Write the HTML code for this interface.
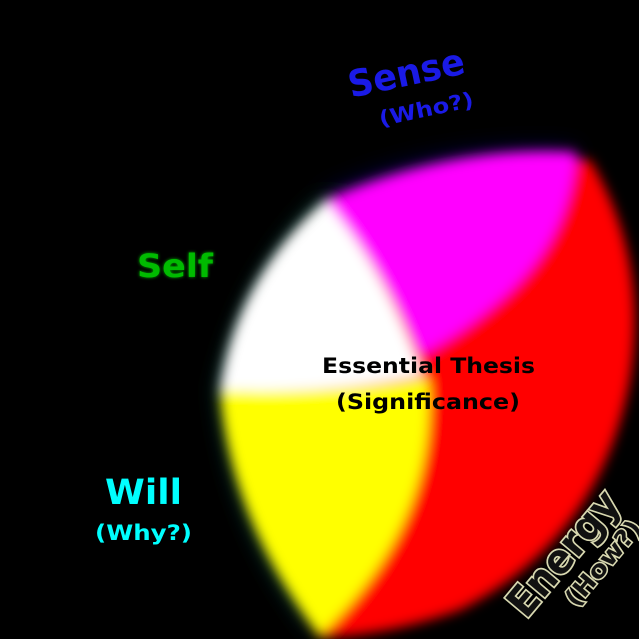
<!DOCTYPE html>
<html><head><style>html,body{margin:0;padding:0;background:#000;}svg{display:block}</style></head><body>
<svg width="639" height="639" viewBox="0 0 639 639" xmlns="http://www.w3.org/2000/svg" font-family="'DejaVu Sans', Verdana, sans-serif" font-weight="bold">
<defs>
<filter id="b" x="-20%" y="-20%" width="140%" height="140%"><feGaussianBlur stdDeviation="6"/></filter>
<filter id="b2" x="-20%" y="-20%" width="140%" height="140%"><feGaussianBlur stdDeviation="12"/></filter>
<filter id="g"><feGaussianBlur stdDeviation="1.5"/></filter>
</defs>
<rect width="639" height="639" fill="#000"/>
<g filter="url(#b2)" opacity="0.7">
<path d="M325,195 Q245,270 218,388 Q230,530 320,638 L320,600 Q250,500 240,390 Q260,280 330,215 Z" fill="#0a4a40"/>
<path d="M325,195 Q440,140 580,150 L560,170 Q440,165 340,215 Z" fill="#001060"/>
</g>
<g filter="url(#b)">
<path d="M325,200 Q450,145 590,160 Q650,260 630,380 Q600,540 460,610 Q390,635 320,638 Q240,530 220,388 Q240,280 325,200 Z" fill="#f00"/>
<path d="M325,200 Q450,145 576,152 Q570,240 500,300 Q460,335 420,355 Q385,270 325,200 Z" fill="#f0f"/>
<path d="M325,200 Q385,270 422,375 Q330,395 220,390 Q235,280 325,200 Z" fill="#fff"/>
<path d="M220,390 Q330,395 428,378 Q440,520 320,636 Q230,520 220,390 Z" fill="#ff0"/>
</g>
<g transform="rotate(-12 405 72)">
<text x="347" y="86" font-size="37" fill="#1a1ae6" textLength="118" lengthAdjust="spacingAndGlyphs">Sense</text>
<text x="370" y="120" font-size="21" fill="#1a1ae6" textLength="96" lengthAdjust="spacingAndGlyphs">(Who?)</text>
</g>
<text x="137" y="277" font-size="32" fill="#0a0" filter="url(#g)" textLength="76" lengthAdjust="spacingAndGlyphs">Self</text>
<text x="137" y="277" font-size="32" fill="#0b0" textLength="76" lengthAdjust="spacingAndGlyphs">Self</text>
<text x="105" y="504" font-size="35" fill="#0ff" textLength="77" lengthAdjust="spacingAndGlyphs">Will</text>
<text x="95" y="540" font-size="21" fill="#0ff" textLength="97" lengthAdjust="spacingAndGlyphs">(Why?)</text>
<text x="322" y="373" font-size="21" fill="#000" textLength="213" lengthAdjust="spacingAndGlyphs">Essential Thesis</text>
<text x="336" y="409" font-size="21" fill="#000" textLength="184" lengthAdjust="spacingAndGlyphs">(Significance)</text>
<g transform="rotate(-50 562 552)">
<text x="562" y="568" font-size="41" fill="#111" stroke="#d8d8b0" stroke-width="3.5" paint-order="stroke" text-anchor="middle" textLength="150" lengthAdjust="spacingAndGlyphs">Energy</text>
<text x="580" y="599" font-size="24" fill="#111" stroke="#d8d8b0" stroke-width="3" paint-order="stroke" text-anchor="middle" textLength="104" lengthAdjust="spacingAndGlyphs">(How?)</text>
</g>
</svg>
</body></html>
